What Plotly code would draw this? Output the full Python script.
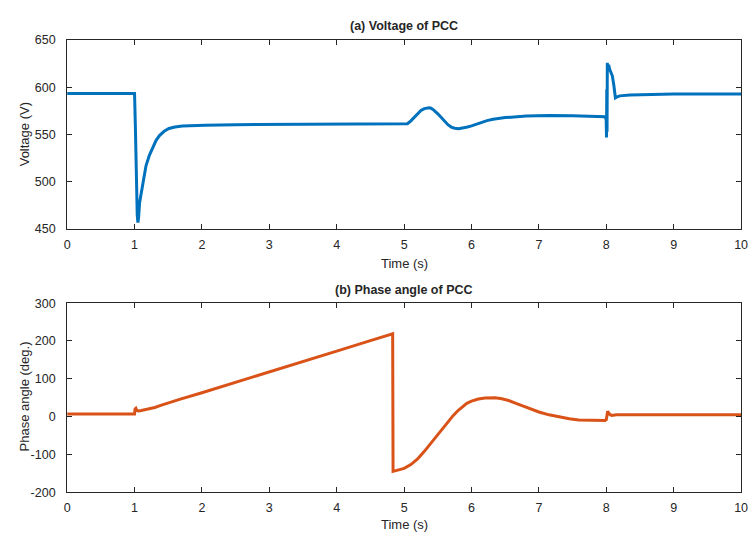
import plotly.graph_objects as go

# ---------------- data ----------------
t_voltage = [0, 0.5, 1.0, 1.012, 1.025, 1.04, 1.05, 1.06, 1.075, 1.1, 1.13, 1.17, 1.22, 1.27,
             1.32, 1.37, 1.44, 1.51, 1.6, 1.71, 1.85, 2.05, 2.5, 3.0, 4.0, 5.0, 5.05, 5.1, 5.15,
             5.2, 5.25, 5.3, 5.34, 5.37, 5.4, 5.44, 5.5, 5.55, 5.6, 5.65, 5.7, 5.75, 5.81, 5.87,
             5.94, 6.0, 6.08, 6.15, 6.23, 6.32, 6.5, 6.81, 7.15, 7.5, 7.98, 7.998, 8.003,
             8.007, 8.011, 8.015, 8.025, 8.035, 8.05, 8.07, 8.09, 8.11, 8.135, 8.16, 8.2,
             8.35, 8.6, 9.0, 10.0]
voltage = [593.5, 593.5, 593.5, 560, 510, 465, 457, 462, 478, 489, 504, 517, 528, 537,
           544, 549, 553.5, 556.5, 558, 559, 559.6, 560, 560.5, 560.6, 560.8, 560.8, 561.5,
           564.5, 568.5, 572.5, 575.5, 577.5, 578.3, 578.5, 578, 576, 572, 568, 564, 560.5,
           558, 556.8, 556.3, 556.8, 558, 559.3, 561.3, 563, 564.8, 566.2, 568, 569.6,
           570.3, 570, 569, 566, 547, 598, 553, 626, 619, 624, 619, 615,
           612, 603, 589, 590, 591, 592, 592.5, 593, 593]

t_phase = [0, 0.5, 1.0, 1.008, 1.02, 1.035, 1.06, 1.1, 1.2, 1.3, 1.4, 1.5, 1.6, 1.68, 2.0,
           2.5, 3.0, 3.5, 4.0, 4.5, 4.83, 4.836, 4.9, 5.0, 5.1, 5.2, 5.3, 5.44, 5.6, 5.73,
           5.8, 5.87, 5.93, 6.0, 6.1, 6.2, 6.27, 6.35, 6.45, 6.55, 6.66, 6.76, 6.85, 7.0,
           7.15, 7.3, 7.45, 7.59, 7.8, 7.98, 8.0, 8.02, 8.05, 8.08, 8.15, 8.5, 9.0, 10.0]
phase = [7, 7, 7, 20, 22, 16, 15, 16, 19, 24, 30, 36, 42, 46, 63,
         90, 118, 145, 173, 201, 219, -145, -142, -137, -127, -112, -92, -61, -25, 3,
         16, 27, 35, 41, 46.5, 49.3, 50, 49.5, 47, 42.5, 35, 28, 21.5, 12,
         4.5, -1.5, -6, -9, -10.5, -10.5, -8, 14, 6,
         3, 5, 5, 5, 5]

v_ticks = [450, 500, 550, 600, 650]
p_ticks = [-200, -100, 0, 100, 200, 300]
p_tick_text = ["-200", "-100", "0", "100", "200", "300"]
t_ticks = [0, 1, 2, 3, 4, 5, 6, 7, 8, 9, 10]

# ---------------- figure ----------------
W, H = 756, 542
FONT = "Liberation Sans, Arial, Helvetica, sans-serif"
AX = "#262626"

fig = go.Figure()
fig.add_trace(go.Scatter(x=t_voltage, y=voltage, mode="lines",
                         line=dict(color="#0072BD", width=3), xaxis="x", yaxis="y",
                         showlegend=False))
fig.add_trace(go.Scatter(x=t_phase, y=phase, mode="lines",
                         line=dict(color="#D95319", width=3), xaxis="x2", yaxis="y2",
                         showlegend=False))

x0, x1 = 65 / W, 748 / W
top_dom = [1 - 228 / H, 1 - 34 / H]
bot_dom = [1 - 498 / H, 1 - 304 / H]

common = dict(showline=True, linecolor=AX, linewidth=1, mirror="ticks",
              ticks="inside", ticklen=5, tickcolor=AX, tickwidth=1,
              showgrid=False, zeroline=False,
              tickfont=dict(family=FONT, size=12.5, color=AX))

fig.update_layout(
    width=W, height=H,
    margin=dict(l=0, r=0, t=0, b=0),
    paper_bgcolor="white", plot_bgcolor="white",
    xaxis=dict(domain=[x0, x1], range=[0, 10], tickvals=t_ticks, anchor="y",
               ticklabelstandoff=4, **common),
    yaxis=dict(domain=top_dom, range=[450, 650], tickvals=v_ticks, anchor="x",
               ticklabelstandoff=8, **common),
    xaxis2=dict(domain=[x0, x1], range=[0, 10], tickvals=t_ticks, anchor="y2",
                ticklabelstandoff=4, **common),
    yaxis2=dict(domain=bot_dom, range=[-200, 300], tickvals=p_ticks, ticktext=p_tick_text,
                anchor="x2", ticklabelstandoff=8, **common),
)

cx = (65 + 748) / 2 / W
ann = [
    dict(text="<b>(a) Voltage of PCC</b>", x=cx, y=1 - 19 / H, size=12.5, angle=0),
    dict(text="<b>(b) Phase angle of PCC</b>", x=cx, y=1 - 290 / H, size=12.5, angle=0),
    dict(text="Time (s)", x=cx, y=1 - 263 / H, size=13, angle=0),
    dict(text="Time (s)", x=cx, y=1 - 531 / H, size=13, angle=0),
    dict(text="Voltage (V)", x=22 / W, y=1 - 131 / H, size=13, angle=-90),
    dict(text="Phase angle (deg.)", x=22 / W, y=1 - 400 / H, size=13, angle=-90),
]
for a in ann:
    fig.add_annotation(text=a["text"], x=a["x"], y=a["y"], xref="paper", yref="paper",
                       xanchor="center", yanchor="middle", showarrow=False,
                       textangle=a["angle"],
                       font=dict(family=FONT, size=a["size"], color=AX))

fig.write_html("out.html")
